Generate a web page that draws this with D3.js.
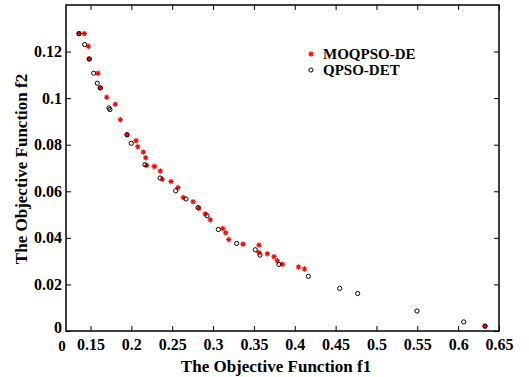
<!DOCTYPE html>
<html>
  <head>
    <meta charset="utf-8">
    <title>Pareto front</title>
    <style>
      body { margin: 0; background-color: white; }
      text { font-family: "Liberation Serif", "Times New Roman", serif; font-weight: bold; fill: black; }
    </style>
  </head>
  <body>
    <div id="chart"></div>

    <script src="https://d3js.org/d3.v7.min.js"></script>
    <script>
      // MOQPSO-DE (red stars)
      var moqpsoF1 = [0.1359, 0.1424, 0.1473, 0.1485, 0.1592, 0.1620, 0.1698, 0.1803, 0.1865, 0.1947,
                      0.2057, 0.2078, 0.2146, 0.2175, 0.2188, 0.2281, 0.2354, 0.2379, 0.2485, 0.2571,
                      0.2636, 0.2755, 0.2825, 0.2905, 0.2966, 0.3118, 0.3155, 0.3192, 0.3367, 0.3562,
                      0.3562, 0.3664, 0.3746, 0.3786, 0.3848, 0.4046, 0.4119, 0.6329];
      var moqpsoF2 = [0.1277, 0.1277, 0.1223, 0.1168, 0.1107, 0.1044, 0.1004, 0.0974, 0.0907, 0.0843,
                      0.0817, 0.0791, 0.0769, 0.0744, 0.0711, 0.0707, 0.0687, 0.0652, 0.0642, 0.0616,
                      0.0573, 0.0555, 0.0527, 0.0503, 0.0478, 0.0440, 0.0422, 0.0393, 0.0373, 0.0369,
                      0.0337, 0.0332, 0.0319, 0.0302, 0.0287, 0.0275, 0.0266, 0.0021];

      // QPSO-DET (black circles)
      var qpsoF1 = [0.1359, 0.1429, 0.1485, 0.1539, 0.1583, 0.1620, 0.1726, 0.1738, 0.1947, 0.1999,
                    0.2167, 0.2351, 0.2543, 0.2669, 0.2816, 0.2926, 0.3064, 0.3289, 0.3517, 0.3575,
                    0.3807, 0.4166, 0.4550, 0.4770, 0.5496, 0.6068, 0.6329];
      var qpsoF2 = [0.1277, 0.1230, 0.1168, 0.1107, 0.1064, 0.1044, 0.0958, 0.0951, 0.0843, 0.0806,
                    0.0714, 0.0657, 0.0602, 0.0567, 0.0530, 0.0495, 0.0436, 0.0376, 0.0349, 0.0326,
                    0.0286, 0.0235, 0.0183, 0.0161, 0.0086, 0.0039, 0.0021];

      var xTicks = [0.15, 0.2, 0.25, 0.3, 0.35, 0.4, 0.45, 0.5, 0.55, 0.6, 0.65];
      var yTicks = [0, 0.02, 0.04, 0.06, 0.08, 0.1, 0.12];
      var xDomain = [0.12, 0.65];
      var yDomain = [0, 0.14];

      var width = 529, height = 377;
      var margin = {left: 66, right: 30, top: 5, bottom: 46};

      var svg = d3.select("#chart").append("svg")
        .attr("width", width)
        .attr("height", height);

      var x = d3.scaleLinear().domain(xDomain).range([margin.left, width - margin.right]);
      var y = d3.scaleLinear().domain(yDomain).range([height - margin.bottom, margin.top]);

      var fmt = function(d) { return d3.format("")(+d.toFixed(2)); };

      // axes with inward ticks on all sides
      svg.append("g")
        .attr("transform", "translate(0," + y.range()[0] + ")")
        .call(d3.axisBottom(x).tickValues(xTicks).tickSizeInner(-5).tickSizeOuter(0).tickPadding(8).tickFormat(fmt))
        .call(function(g) { g.select(".domain").remove(); })
        .selectAll("text").attr("font-size", 16).attr("font-family", null);
      svg.append("g")
        .attr("transform", "translate(0," + y.range()[1] + ")")
        .call(d3.axisTop(x).tickValues(xTicks).tickSizeInner(-5).tickSizeOuter(0).tickFormat(""))
        .call(function(g) { g.select(".domain").remove(); });
      svg.append("g")
        .attr("transform", "translate(" + x.range()[0] + ",0)")
        .call(d3.axisLeft(y).tickValues(yTicks).tickSizeInner(-5).tickSizeOuter(0).tickPadding(4).tickFormat(fmt))
        .call(function(g) { g.select(".domain").remove(); })
        .selectAll("text")
          .attr("font-size", 16).attr("font-family", null)
          .attr("dy", function(d) { return d === 0 ? "0.1em" : "0.32em"; });
      svg.append("g")
        .attr("transform", "translate(" + x.range()[1] + ",0)")
        .call(d3.axisRight(y).tickValues(yTicks).tickSizeInner(-5).tickSizeOuter(0).tickFormat(""))
        .call(function(g) { g.select(".domain").remove(); });
      svg.selectAll(".tick line").attr("stroke", "black").attr("stroke-width", 1);

      // the lone "0" under the corner
      svg.append("text")
        .attr("x", x(xDomain[0]) - 4)
        .attr("y", y(0) + 20)
        .attr("text-anchor", "middle")
        .attr("font-size", 15)
        .text("0");

      // frame
      svg.append("rect")
        .attr("x", x.range()[0]).attr("y", y.range()[1])
        .attr("width", x.range()[1] - x.range()[0])
        .attr("height", y.range()[0] - y.range()[1])
        .attr("fill", "none").attr("stroke", "black").attr("stroke-width", 1.5);

      var star = "M-2.7,0H2.7M0,-2.7V2.7M-1.9,-1.9L1.9,1.9M-1.9,1.9L1.9,-1.9";

      var moqpso = d3.range(moqpsoF1.length).map(function(i) { return [moqpsoF1[i], moqpsoF2[i]]; });
      var qpso = d3.range(qpsoF1.length).map(function(i) { return [qpsoF1[i], qpsoF2[i]]; });

      svg.append("g").selectAll("path")
        .data(moqpso)
        .enter().append("path")
        .attr("d", star)
        .attr("transform", function(d) { return "translate(" + x(d[0]) + "," + y(d[1]) + ")"; })
        .attr("stroke", "red")
        .attr("stroke-width", 1.1);

      svg.append("g").selectAll("circle")
        .data(qpso)
        .enter().append("circle")
        .attr("cx", function(d) { return x(d[0]); })
        .attr("cy", function(d) { return y(d[1]); })
        .attr("r", 2.1)
        .attr("fill", "none")
        .attr("stroke", "black")
        .attr("stroke-width", 1);

      // legend
      var legend = svg.append("g").attr("transform", "translate(311,54)");
      legend.append("path").attr("d", star).attr("stroke", "red").attr("stroke-width", 1.1);
      legend.append("text").attr("x", 12).attr("y", 5).attr("font-size", 15).text("MOQPSO-DE");
      legend.append("circle").attr("cx", 0).attr("cy", 16).attr("r", 2.1)
        .attr("fill", "none").attr("stroke", "black").attr("stroke-width", 1);
      legend.append("text").attr("x", 12).attr("y", 21).attr("font-size", 15).text("QPSO-DET");

      // axis titles
      svg.append("text")
        .attr("x", 276)
        .attr("y", 372)
        .attr("text-anchor", "middle")
        .attr("font-size", 17)
        .text("The Objective Function f1");
      svg.append("text")
        .attr("transform", "translate(27,169) rotate(-90)")
        .attr("text-anchor", "middle")
        .attr("font-size", 17)
        .text("The Objective Function f2");
    </script>
  </body>
</html>
